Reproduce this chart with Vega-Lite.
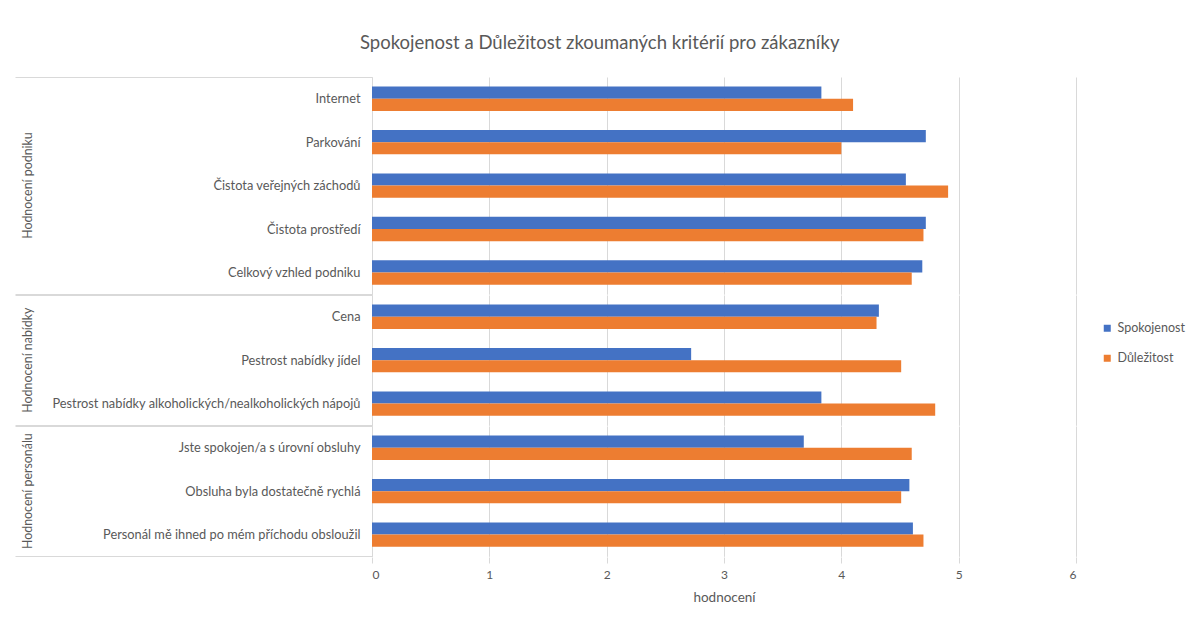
{
  "$schema": "https://vega.github.io/schema/vega-lite/v6.json",
  "padding": {"left": 14, "top": 33, "right": 10, "bottom": 8},
  "background": "white",
  "bounds": "flush",
  "title": {"text": "Spokojenost a Důležitost zkoumaných kritérií pro zákazníky", "font": "Lato", "fontSize": 18.5, "fontWeight": "normal", "color": "#595959", "anchor": "middle", "frame": "bounds", "offset": 19},
  "data": {"values": [
    {"group": "Hodnocení podniku", "category": "Internet", "series": "Spokojenost", "value": 3.83},
    {"group": "Hodnocení podniku", "category": "Internet", "series": "Důležitost", "value": 4.10},
    {"group": "Hodnocení podniku", "category": "Parkování", "series": "Spokojenost", "value": 4.72},
    {"group": "Hodnocení podniku", "category": "Parkování", "series": "Důležitost", "value": 4.00},
    {"group": "Hodnocení podniku", "category": "Čistota veřejných záchodů", "series": "Spokojenost", "value": 4.55},
    {"group": "Hodnocení podniku", "category": "Čistota veřejných záchodů", "series": "Důležitost", "value": 4.91},
    {"group": "Hodnocení podniku", "category": "Čistota prostředí", "series": "Spokojenost", "value": 4.72},
    {"group": "Hodnocení podniku", "category": "Čistota prostředí", "series": "Důležitost", "value": 4.70},
    {"group": "Hodnocení podniku", "category": "Celkový vzhled podniku", "series": "Spokojenost", "value": 4.69},
    {"group": "Hodnocení podniku", "category": "Celkový vzhled podniku", "series": "Důležitost", "value": 4.60},
    {"group": "Hodnocení nabídky", "category": "Cena", "series": "Spokojenost", "value": 4.32},
    {"group": "Hodnocení nabídky", "category": "Cena", "series": "Důležitost", "value": 4.30},
    {"group": "Hodnocení nabídky", "category": "Pestrost nabídky jídel", "series": "Spokojenost", "value": 2.72},
    {"group": "Hodnocení nabídky", "category": "Pestrost nabídky jídel", "series": "Důležitost", "value": 4.51},
    {"group": "Hodnocení nabídky", "category": "Pestrost nabídky alkoholických/nealkoholických nápojů", "series": "Spokojenost", "value": 3.83},
    {"group": "Hodnocení nabídky", "category": "Pestrost nabídky alkoholických/nealkoholických nápojů", "series": "Důležitost", "value": 4.80},
    {"group": "Hodnocení personálu", "category": "Jste spokojen/a s úrovní obsluhy", "series": "Spokojenost", "value": 3.68},
    {"group": "Hodnocení personálu", "category": "Jste spokojen/a s úrovní obsluhy", "series": "Důležitost", "value": 4.60},
    {"group": "Hodnocení personálu", "category": "Obsluha byla dostatečně rychlá", "series": "Spokojenost", "value": 4.58},
    {"group": "Hodnocení personálu", "category": "Obsluha byla dostatečně rychlá", "series": "Důležitost", "value": 4.51},
    {"group": "Hodnocení personálu", "category": "Personál mě ihned po mém příchodu obsloužil", "series": "Spokojenost", "value": 4.61},
    {"group": "Hodnocení personálu", "category": "Personál mě ihned po mém příchodu obsloužil", "series": "Důležitost", "value": 4.70}
  ]},
  "facet": {
    "row": {
      "field": "group", "type": "nominal",
      "sort": ["Hodnocení podniku", "Hodnocení nabídky", "Hodnocení personálu"],
      "header": {"title": null, "labelAngle": -90, "labelOrient": "left", "labelFont": "Lato", "labelFontSize": 12.4, "labelColor": "#595959", "labelPadding": 332}
    }
  },
  "spacing": 0,
  "resolve": {"scale": {"y": "independent"}},
  "spec": {
    "width": 704,
    "height": {"step": 12.2},
    "mark": {"type": "bar"},
    "encoding": {
      "y": {
        "field": "category", "type": "nominal",
        "sort": ["Internet", "Parkování", "Čistota veřejných záchodů", "Čistota prostředí", "Celkový vzhled podniku", "Cena", "Pestrost nabídky jídel", "Pestrost nabídky alkoholických/nealkoholických nápojů", "Jste spokojen/a s úrovní obsluhy", "Obsluha byla dostatečně rychlá", "Personál mě ihned po mém příchodu obsloužil"],
        "scale": {"paddingInner": 0, "paddingOuter": 0},
        "axis": {
          "title": null, "tickBand": "extent", "tickSize": 357,
          "tickColor": {"condition": {"test": "datum.extra || datum.value === 'Celkový vzhled podniku' || datum.value === 'Pestrost nabídky alkoholických/nealkoholických nápojů' || datum.value === 'Personál mě ihned po mém příchodu obsloužil'", "value": "#d9d9d9"}, "value": "transparent"},
          "labelPadding": -345,
          "domainColor": "#d9d9d9", "labelFont": "Lato", "labelFontSize": 12.8, "labelColor": "#595959", "labelLimit": 400
        }
      },
      "yOffset": {"field": "series", "type": "nominal", "sort": ["Spokojenost", "Důležitost"], "scale": {"paddingOuter": 0.78, "paddingInner": 0}},
      "x": {
        "field": "value", "type": "quantitative",
        "scale": {"domain": [0, 6]},
        "axis": {
          "title": "hodnocení", "values": [0, 1, 2, 3, 4, 5, 6], "grid": true, "gridColor": "#d9d9d9", "domain": false,
          "tickColor": "#d9d9d9", "tickSize": 6, "labelPadding": 6,
          "labelFont": "Lato", "labelFontSize": 12, "labelColor": "#595959",
          "titleFont": "Lato", "titleFontSize": 13.5, "titleFontWeight": "normal", "titleColor": "#595959", "titlePadding": 10
        }
      },
      "color": {
        "field": "series", "type": "nominal", "sort": ["Spokojenost", "Důležitost"],
        "scale": {"range": ["#4472C4", "#ED7D31"]},
        "legend": {"title": null, "orient": "none", "legendX": 729, "legendY": 245, "symbolType": "square", "symbolSize": 49, "symbolStrokeWidth": 0, "labelFont": "Lato", "labelFontSize": 12.5, "labelColor": "#595959", "rowPadding": 17}
      }
    }
  },
  "config": {"view": {"stroke": null}}
}
